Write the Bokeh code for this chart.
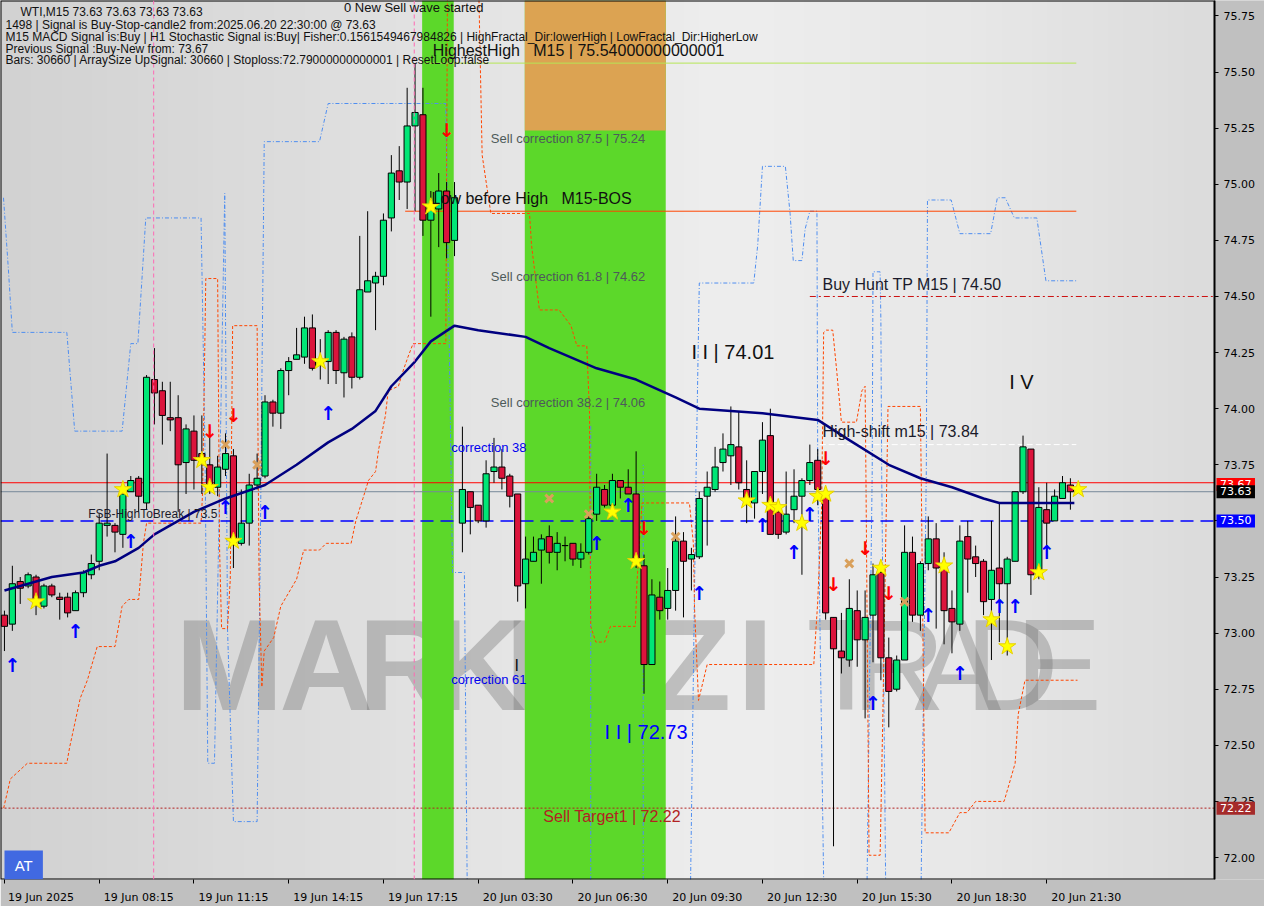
import numpy as np
from bokeh.plotting import figure
from bokeh.models import ColumnDataSource, Span, Label, FixedTicker, NumeralTickFormatter, LinearAxis
from bokeh.core.properties import value
from bokeh.embed import file_html
from bokeh.resources import INLINE

# ---------------- data ----------------
x_tick_bars = [0, 12, 24, 36, 48, 60, 72, 84, 96, 108, 120, 132]
x_tick_labels = ["19 Jun 2025", "19 Jun 08:15", "19 Jun 11:15", "19 Jun 14:15", "19 Jun 17:15",
                 "20 Jun 03:30", "20 Jun 06:30", "20 Jun 09:30", "20 Jun 12:30", "20 Jun 15:30",
                 "20 Jun 18:30", "20 Jun 21:30"]
y_ticks = [72.00, 72.25, 72.50, 72.75, 73.00, 73.25, 73.50, 73.75, 74.00, 74.25, 74.50, 74.75,
           75.00, 75.25, 75.50, 75.75]

opens = [73.08, 73.04, 73.23, 73.21, 73.25, 73.12, 73.21, 73.16, 73.16, 73.10,
         73.18, 73.26, 73.32, 73.48, 73.48, 73.44, 73.63, 73.69, 73.58, 74.13,
         74.08, 73.96, 73.96, 73.76, 73.90, 73.80, 73.75, 73.65, 73.73, 73.79,
         73.40, 73.49, 73.66, 73.70, 74.03, 73.98, 74.17, 74.22, 74.23, 74.36,
         74.20, 74.21, 74.34, 74.16, 74.32, 74.14, 74.52, 74.56, 74.59, 74.85,
         75.06, 75.01, 75.26, 75.31, 74.84, 74.89, 74.97, 74.75, 73.49, 73.63,
         73.57, 73.50, 73.72, 73.74, 73.70, 73.62, 73.22, 73.32, 73.37, 73.43,
         73.36, 73.39, 73.40, 73.33, 73.36, 73.53, 73.64, 73.57, 73.68, 73.65,
         73.62, 73.30, 72.86, 73.16, 73.11, 73.19, 73.41, 73.33, 73.34, 73.61,
         73.64, 73.76, 73.79, 73.83, 73.64, 73.58, 73.72, 73.88, 73.54, 73.45,
         73.55, 73.61, 73.68, 73.77, 73.62, 73.07, 72.92, 72.88, 73.10, 72.97,
         73.08, 73.27, 72.89, 72.75, 72.88, 73.36, 73.08, 73.31, 73.42, 73.29,
         73.11, 73.04, 73.43, 73.34, 73.32, 73.15, 73.29, 73.22, 73.32, 73.63,
         73.82, 73.26, 73.55, 73.50, 73.60, 73.66]
highs = [73.10, 73.30, 73.25, 73.27, 73.26, 73.22, 73.22, 73.18, 73.18, 73.19,
         73.28, 73.35, 73.53, 73.80, 73.49, 73.62, 73.70, 73.70, 74.15, 74.27,
         74.12, 74.12, 74.06, 73.93, 73.97, 73.97, 73.92, 73.79, 73.89, 73.82,
         73.64, 73.71, 73.80, 74.06, 74.04, 74.18, 74.23, 74.36, 74.41, 74.42,
         74.31, 74.35, 74.35, 74.32, 74.34, 74.77, 74.88, 74.61, 74.87, 75.13,
         75.17, 75.43, 75.54, 75.43, 74.97, 75.05, 75.01, 75.01, 73.92, 73.63,
         73.57, 73.77, 73.87, 73.82, 73.71, 73.62, 73.43, 73.43, 73.44, 73.48,
         73.45, 73.43, 73.40, 73.40, 73.54, 73.71, 73.66, 73.71, 73.68, 73.73,
         73.81, 73.35, 73.24, 73.23, 73.29, 73.52, 73.45, 73.38, 73.63, 73.72,
         73.83, 73.89, 74.01, 73.99, 73.77, 73.72, 73.94, 74.00, 73.58, 73.72,
         73.73, 73.69, 73.84, 73.82, 73.64, 73.07, 73.09, 73.24, 73.19, 73.19,
         73.31, 73.28, 72.98, 72.90, 73.48, 73.43, 73.32, 73.52, 73.49, 73.36,
         73.19, 73.48, 73.50, 73.39, 73.33, 73.50, 73.58, 73.34, 73.63, 73.88,
         73.82, 73.65, 73.67, 73.64, 73.70, 73.69]
lows = [72.92, 73.01, 73.13, 73.20, 73.08, 73.11, 73.16, 73.06, 73.07, 73.10,
        73.16, 73.24, 73.28, 73.43, 73.36, 73.38, 73.63, 73.54, 73.55, 73.93,
        73.84, 73.90, 73.54, 73.62, 73.64, 73.62, 73.62, 73.61, 73.70, 73.29,
        73.39, 73.39, 73.64, 73.69, 73.92, 73.91, 74.06, 74.22, 74.20, 74.17,
        74.13, 74.11, 74.11, 74.05, 74.09, 74.13, 74.52, 74.35, 74.55, 74.79,
        74.93, 74.89, 74.88, 74.77, 74.41, 74.72, 74.67, 74.68, 73.36, 73.44,
        73.49, 73.47, 73.67, 73.64, 73.56, 73.14, 73.11, 73.32, 73.22, 73.31,
        73.28, 73.32, 73.30, 73.29, 73.35, 73.50, 73.56, 73.56, 73.60, 73.62,
        73.29, 72.73, 72.86, 73.06, 73.06, 73.10, 73.07, 73.19, 73.33, 73.39,
        73.63, 73.72, 73.66, 73.64, 73.49, 73.51, 73.62, 73.44, 73.42, 73.44,
        73.49, 73.26, 73.66, 73.57, 73.06, 72.05, 72.82, 72.85, 72.85, 72.62,
        72.87, 72.79, 72.58, 72.74, 72.88, 73.05, 73.01, 73.28, 73.02, 72.95,
        72.91, 73.01, 73.18, 73.25, 73.08, 72.88, 72.96, 72.90, 73.32, 73.62,
        73.17, 73.24, 73.33, 73.50, 73.60, 73.55]
closes = [73.03, 73.22, 73.20, 73.26, 73.15, 73.21, 73.17, 73.15, 73.09, 73.18,
          73.27, 73.31, 73.49, 73.49, 73.45, 73.62, 73.68, 73.61, 74.14, 74.07,
          73.97, 73.95, 73.75, 73.91, 73.77, 73.76, 73.66, 73.74, 73.80, 73.40,
          73.49, 73.66, 73.69, 74.03, 73.98, 74.17, 74.21, 74.24, 74.36, 74.18,
          74.22, 74.34, 74.17, 74.31, 74.14, 74.53, 74.57, 74.59, 74.84, 75.05,
          75.01, 75.26, 75.32, 74.84, 74.89, 74.97, 74.74, 74.94, 73.64, 73.56,
          73.50, 73.71, 73.74, 73.69, 73.61, 73.21, 73.33, 73.36, 73.42, 73.36,
          73.40, 73.39, 73.33, 73.36, 73.51, 73.65, 73.57, 73.68, 73.65, 73.62,
          73.31, 72.86, 73.17, 73.10, 73.19, 73.41, 73.32, 73.35, 73.60, 73.65,
          73.74, 73.82, 73.84, 73.67, 73.60, 73.72, 73.86, 73.44, 73.44, 73.53,
          73.61, 73.68, 73.76, 73.64, 73.09, 72.93, 72.89, 73.11, 72.97, 73.07,
          73.26, 72.89, 72.74, 72.88, 73.36, 73.08, 73.31, 73.42, 73.29, 73.10,
          73.05, 73.41, 73.33, 73.31, 73.14, 73.28, 73.22, 73.33, 73.63, 73.83,
          73.26, 73.56, 73.49, 73.61, 73.67, 73.63]

# moving average (read at a few bars)
ma_bar = [0, 2, 6, 10, 12, 14, 17, 19, 22, 24, 28, 33, 37, 41, 44, 47, 49, 52, 54, 57,
          60, 62, 66, 69, 75, 80, 85, 88, 92, 96, 103, 107, 112, 116, 120, 124, 126, 131, 135.5]
ma_val = [73.19, 73.21, 73.25, 73.27, 73.30, 73.32, 73.38, 73.44, 73.50, 73.54, 73.60, 73.66,
          73.75, 73.85, 73.91, 73.99, 74.10, 74.21, 74.30, 74.37, 74.35, 74.34, 74.32, 74.27, 74.18,
          74.13, 74.05, 74.00, 73.99, 73.98, 73.95, 73.86, 73.75, 73.69, 73.65, 73.60, 73.58,
          73.58, 73.58]

star_bar = [4, 15, 25, 26, 29, 40, 54, 77, 80, 94, 97, 98, 101, 103, 104, 111, 119, 125, 127, 131, 136]
star_val = [73.14, 73.64, 73.77, 73.65, 73.41, 74.21, 74.90, 73.54, 73.32, 73.59, 73.57, 73.56,
            73.49, 73.61, 73.62, 73.29, 73.30, 73.06, 72.94, 73.27, 73.64]
up_bar = [1, 9, 16, 28, 33, 41, 75, 79, 88, 96, 100, 102, 110, 117, 121, 126, 128, 132]
up_val = [72.86, 73.01, 73.41, 73.56, 73.54, 73.98, 73.40, 73.57, 73.18, 73.48, 73.36, 73.53,
          72.69, 73.08, 72.82, 73.12, 73.12, 73.36]
down_bar = [26, 29, 56, 81, 104, 105, 109, 112]
down_val = [73.90, 73.97, 75.24, 73.47, 73.78, 73.22, 73.38, 73.18]
cross_bar = [28, 32, 69, 74, 85, 107, 114]
cross_val = [73.84, 73.75, 73.60, 73.53, 73.43, 73.31, 73.14]

# signal zones (bar ranges)
band_start = [52.9, 65.9]
band_end = [56.9, 83.75]
sell_zone_low = 75.24

# levels
highest_high = 75.54
low_before_high = 74.88
buy_hunt_tp = 74.50
high_shift = 73.84
fsb_high = 73.50
prev_signal = 73.67
last_price = 73.63
sell_target = 72.22
corr_875, corr_618, corr_382 = 75.24, 74.62, 74.06
wave2_high, wave3_low = 74.01, 72.73

# channel indicator paths (bar, price)
blue_paths = [
    ([-0.12, 0.5, 1.0, 7.9, 8.9, 14.9, 16.0, 16.9, 17.9, 24.9, 25.4, 25.75, 26.6, 27.1, 27.9, 28.25,
      29.0, 32.0, 32.4, 32.9, 39.9, 41.0, 55.9, 56.75, 58.25, 58.6],
     [74.94, 74.62, 74.34, 74.34, 73.90, 73.90, 74.29, 74.29, 74.85, 74.85, 73.81, 72.42, 72.42,
      73.37, 74.96, 73.02, 72.16, 72.16, 73.37, 75.19, 75.19, 75.36, 75.36, 73.27, 73.27, 71.90]),
    ([74.25, 74.25], [71.90, 73.93]),
    ([80.9, 80.9], [71.90, 73.75]),
    ([86.9, 87.6, 88.0, 94.9, 95.4, 96.0, 98.9, 99.5, 99.9, 101.0, 101.4, 102.0, 102.9, 103.0, 103.75],
     [71.90, 73.72, 74.56, 74.56, 74.73, 75.08, 75.08, 74.87, 74.66, 74.66, 74.80, 74.88, 74.88,
      73.72, 71.90]),
    ([109.25, 109.9, 110.0, 110.9, 111.0, 111.1, 111.6],
     [71.90, 73.72, 74.61, 74.61, 74.39, 73.72, 71.90]),
    ([116.1, 116.75, 116.9, 119.9, 121.0, 124.9, 125.75, 126.75, 127.9, 130.75, 131.9, 135.75],
     [71.90, 73.72, 74.93, 74.93, 74.78, 74.78, 74.94, 74.94, 74.85, 74.85, 74.57, 74.57]),
]
orange_paths = [
    ([-0.1, 0.75, 2.9, 7.9, 8.25, 9.6, 10.5, 11.75, 14.0, 14.4, 14.9, 15.75, 17.0, 17.6, 18.0, 24.9,
      25.1, 25.5, 27.0, 27.25, 27.5, 28.25, 28.6, 28.9, 32.0, 32.25, 32.6, 32.9, 34.1, 35.0, 37.0,
      37.9, 39.9, 40.75, 43.9, 44.5, 45.4, 46.1, 47.0, 47.4, 48.25, 48.6, 49.9, 50.4, 51.1, 51.75,
      55.9, 56.1],
     [72.22, 72.35, 72.42, 72.42, 72.49, 72.71, 72.79, 72.94, 72.94, 73.02, 73.12, 73.15, 73.15,
      73.40, 73.49, 73.49, 73.63, 74.58, 74.58, 73.37, 73.02, 73.02, 73.24, 74.37, 74.37, 73.24,
      72.76, 72.92, 72.98, 73.12, 73.24, 73.37, 73.37, 73.40, 73.40, 73.50, 73.60, 73.68, 73.72,
      73.82, 73.97, 74.08, 74.10, 74.16, 74.23, 74.29, 74.29, 75.82]),
    ([60.1, 60.5, 61.6, 66.5, 66.75, 67.75, 70.25, 71.75, 72.5, 73.75, 74.1, 74.25, 74.9, 76.0,
      76.75, 79.9, 80.1, 80.75, 86.75, 87.25, 87.4, 87.9, 89.0, 90.4, 102.5, 103.0, 103.5, 103.75,
      104.1, 104.9, 105.4, 106.0, 107.9, 108.6, 109.0, 109.1, 109.5, 110.9, 111.25, 111.9, 116.0,
      116.1, 116.6, 119.6, 121.0, 121.9, 123.0, 126.6, 127.1, 128.0, 128.4, 129.25, 135.9],
     [75.82, 75.13, 74.87, 74.87, 74.73, 74.44, 74.44, 74.37, 74.28, 74.28, 73.98, 73.03, 72.96,
      72.96, 73.03, 73.03, 73.22, 73.58, 73.58, 73.40, 73.11, 72.70, 72.86, 72.86, 72.86, 73.14,
      73.57, 74.34, 74.35, 74.35, 74.17, 73.94, 73.94, 74.08, 74.10, 73.72, 72.01, 72.01, 72.64,
      74.01, 74.01, 73.72, 72.11, 72.11, 72.20, 72.20, 72.25, 72.25, 72.31, 72.42, 72.64, 72.79,
      72.79]),
]
marker_lines = [18.9, 51.9]

header = [
    "WTI,M15  73.63 73.63 73.63 73.63",
    "1498 | Signal is Buy-Stop-candle2 from:2025.06.20 22:30:00 @ 73.63",
    "M15 MACD Signal is:Buy | H1 Stochastic Signal is:Buy| Fisher:0.1561549467984826 | HighFractal_Dir:lowerHigh | LowFractal_Dir:HigherLow",
    "Previous Signal :Buy-New from: 73.67",
    "Bars: 30660 | ArraySize UpSignal: 30660 | Stoploss:72.79000000000001 | ResetLoop:false",
]

# ---------------- figure ----------------
CW, FH = 1214, 879            # chart area (inside the price scale), frame height
AXW = 50                      # price-scale gutter width
X0, X1 = -0.5, 153.25
Y0, Y1 = 71.902, 75.819
PXB = CW / (X1 - X0)          # pixels per bar
XA = X1 + AXW / PXB           # frame also covers the price-scale gutter
FW = CW + AXW

p = figure(frame_width=FW, frame_height=FH, x_range=(X0, XA), y_range=(Y0, Y1),
           y_axis_location=None, toolbar_location=None, output_backend="svg",
           min_border_left=0, min_border_top=0, min_border_right=0, min_border_bottom=25,
           background_fill_color="#e0e0e0", border_fill_color="#c0c0c0")
p.grid.visible = False
p.outline_line_color = None

# background gradient
gx = np.linspace(0, 1, 80)
g = np.interp(gx, [0, 0.35, 0.6, 0.8, 1.0], [210, 226, 238, 232, 220]).astype(np.uint32)
img = np.zeros((2, 80), dtype=np.uint32)
img[:, :] = (255 << 24) | (g << 16) | (g << 8) | g
p.image_rgba(image=[img], x=X0, y=Y0, dw=X1 - X0, dh=Y1 - Y0, level="image")

# zones
p.quad(left=band_start, right=band_end, bottom=Y0, top=Y1, fill_color="#5cd82a", line_color=None)
p.quad(left=[band_start[1]], right=[band_end[1]], bottom=[sell_zone_low], top=[Y1],
       fill_color="#dca352", line_color=None)

# watermark
wm_letters = ["M", "A", "R", "K", "E", "T", "Z", "I", "T", "R", "A", "D", "E"]
wm_pos = [28.5, 40.75, 50.75, 60.1, 68.9, 77.6, 87.0, 95.1, 106.6, 113.25, 120.75, 127.6, 133.5]
wm_bold = [True] * 8 + [False] * 5
for L, xp, b in zip(wm_letters, wm_pos, wm_bold):
    p.add_layout(Label(x=xp, y=72.856, text=L, text_font="Liberation Sans",
                       text_font_size="130px", text_font_style="bold" if b else "normal",
                       text_color="#6e6e6e", text_alpha=0.36, text_align="center",
                       text_baseline="middle", level="underlay"))

# vertical marker lines
for xv in marker_lines:
    p.add_layout(Span(location=xv, dimension="height", line_color="#ff69b4",
                      line_dash="4 3", line_width=1))

# indicator channel paths
for xs, ys in blue_paths:
    p.line(xs, ys, line_color="#4f8ef0", line_dash="4 2 1 2", line_width=1)
for xs, ys in orange_paths:
    p.line(xs, ys, line_color="#ff4500", line_dash="3 2", line_width=1)

# horizontal levels
p.line([X0, X1], [prev_signal, prev_signal], line_color="#ff0000", line_width=1)
p.line([X0, X1], [last_price, last_price], line_color="#778899", line_width=1)
p.line([X0, X1], [fsb_high, fsb_high], line_color="#0000ff", line_width=1.5, line_dash="13 7")
p.line([X0, X1], [sell_target, sell_target], line_color="#b22222", line_width=1, line_dash="2 2")
p.line([53.25, 135.75], [highest_high, highest_high], line_color="#b5e655", line_width=1)
p.line([50.75, 135.75], [low_before_high, low_before_high], line_color="#ff4500", line_width=1)
p.line([102.0, X1], [buy_hunt_tp, buy_hunt_tp], line_color="#cc1111", line_width=1,
       line_dash="6 3 2 3")
p.line([103.25, 135.75], [high_shift, high_shift], line_color="white", line_width=1,
       line_dash="6 3")

# candles
idx = list(range(len(opens)))
cols = ["#00e676" if c >= o else "#dc143c" for o, c in zip(opens, closes)]
src = ColumnDataSource(dict(x=idx, o=opens, h=highs, l=lows, c=closes,
                            top=[max(o, c) for o, c in zip(opens, closes)],
                            bot=[min(o, c) for o, c in zip(opens, closes)], col=cols))
p.segment(x0="x", y0="l", x1="x", y1="h", source=src, line_color="black", line_width=1)
p.vbar(x="x", top="top", bottom="bot", width=0.78, source=src, fill_color="col",
       line_color="black", line_width=1)

# moving average
p.line(ma_bar, ma_val, line_color="#000080", line_width=2.5)

# signal markers
p.scatter(star_bar, star_val, marker="star", size=18, fill_color="#ffff00", line_color="#e8d000")
p.scatter(cross_bar, cross_val, marker="x", size=11, line_color="#d9a05b", line_width=3)
p.text(up_bar, up_val, text=["\u2191"] * len(up_bar), text_font=value("DejaVu Sans"),
       text_font_style="bold", text_font_size="19px", text_color="#0000ff",
       text_align="center", text_baseline="middle")
p.text(down_bar, down_val, text=["\u2193"] * len(down_bar), text_font=value("DejaVu Sans"),
       text_font_style="bold", text_font_size="19px", text_color="#ff0000",
       text_align="center", text_baseline="middle")

# price-scale gutter and chart border
p.quad(left=[X1], right=[XA + 1], bottom=[Y0 - 1], top=[Y1 + 1], fill_color="#c0c0c0",
       line_color=None)
p.quad(left=[X0], right=[X1], bottom=[Y0], top=[Y1], fill_color=None, line_color="black",
       line_width=2)

# chart texts
NB = "\u00a0"
def dlabel(x, y, t, size, color="#111111", font="Liberation Sans"):
    p.add_layout(Label(x=x, y=y, text=t, text_font=font, text_font_size=size,
                       text_color=color, text_baseline="middle", text_align="left"))

dlabel(43.0, 75.789, "0 New Sell wave started", "13px")
dlabel(54.25, 75.596, "HighestHigh" + NB * 3 + "M15 | 75.54000000000001", "16px")
dlabel(61.6, 75.206, "Sell correction 87.5 | %.2f" % corr_875, "13px", "#4d5a5a")
dlabel(54.1, 74.935, "Low before High" + NB * 3 + "M15-BOS", "16px")
dlabel(61.6, 74.589, "Sell correction 61.8 | %.2f" % corr_618, "13px", "#4d5a5a")
dlabel(103.6, 74.554, "Buy Hunt TP M15 | %.2f" % buy_hunt_tp, "16px", "#1a1a2a")
dlabel(87.0, 74.252, "I I | %.2f" % wave2_high, "20px")
dlabel(127.25, 74.121, "I V", "20px")
dlabel(61.6, 74.029, "Sell correction 38.2 | %.2f" % corr_382, "13px", "#4d5a5a")
dlabel(103.6, 73.898, "High-shift m15 | %.2f" % high_shift, "16px", "#1a1a2a")
dlabel(56.6, 73.828, "correction 38", "13px", "#0000ee")
dlabel(10.6, 73.530, "FSB-HighToBreak | 73.5", "12px", "#1a1a2a")
dlabel(64.6, 72.856, "I", "16px")
dlabel(56.6, 72.795, "correction 61", "13px", "#0000ee")
dlabel(76.0, 72.559, "I I | %.2f" % wave3_low, "20px", "#0000ff")
dlabel(68.25, 72.182, "Sell Target1 | %.2f" % sell_target, "16px", "#b22222")

# header (screen units)
def sy(ypix):
    return FH - ypix * FH / 895.0

hx = [20, 5, 5, 5, 5]
hy = [12, 25, 37, 49, 61]
for t, xx, yy in zip(header, hx, hy):
    p.add_layout(Label(x=xx, y=sy(yy), x_units="screen", y_units="screen", text=t,
                       text_font="Liberation Sans", text_font_size="12px",
                       text_color="#111111", text_baseline="middle"))

# price boxes on the price scale
def pbox(price, txt, bg):
    p.add_layout(Label(x=X1 + 2 / PXB, y=price, text=NB + txt + NB, text_font="DejaVu Sans",
                       text_font_size="11px", text_color="white", background_fill_color=bg,
                       text_baseline="middle", padding=0))

pbox(prev_signal - 0.008, "%.2f" % prev_signal, "#ff0000")
pbox(last_price, "%.2f" % last_price, "#000000")
pbox(fsb_high, "%.2f" % fsb_high, "#0000ff")
pbox(sell_target, "%.2f" % sell_target, "#a52a2a")

p.add_layout(Label(x=4, y=0, x_units="screen", y_units="screen", text=NB + "AT" + NB,
                   text_font="Liberation Sans", text_font_size="15px", text_color="white",
                   background_fill_color="#4169e1", padding=6))

# price axis drawn at the chart edge
yax = LinearAxis(fixed_location=X1, ticker=FixedTicker(ticks=y_ticks),
                 formatter=NumeralTickFormatter(format="0.00"),
                 axis_line_color="black", major_tick_line_color="black", major_tick_in=0,
                 major_tick_out=4, minor_tick_line_color=None, major_label_standoff=5,
                 major_label_text_font="DejaVu Sans", major_label_text_font_size="11px",
                 major_label_text_color="black")
p.add_layout(yax, "right")

# time axis: tick marks at bars
p.xaxis.ticker = FixedTicker(ticks=x_tick_bars)
p.xaxis.major_label_overrides = {b: "" for b in x_tick_bars}
p.xaxis.major_label_text_font_size = "1px"
p.xaxis.major_label_standoff = 0
p.xaxis.axis_line_color = None
p.xaxis.major_tick_line_color = "black"
p.xaxis.major_tick_in = 0
p.xaxis.major_tick_out = 4
p.xaxis.minor_tick_line_color = None

# date labels start at their tick: label axis shifted by half a label width
lab_pos = [b + (len(t) * 6.1 / 2 + 3) / PXB for b, t in zip(x_tick_bars, x_tick_labels)]
lab_axis = LinearAxis(ticker=FixedTicker(ticks=lab_pos),
                      major_label_overrides={lp: t for lp, t in zip(lab_pos, x_tick_labels)},
                      axis_line_color=None, major_tick_line_color=None,
                      minor_tick_line_color=None, major_label_standoff=1,
                      major_label_text_font="DejaVu Sans", major_label_text_font_size="11px",
                      major_label_text_color="black")
p.add_layout(lab_axis, "below")

open("out.html", "w").write(file_html(p, INLINE))
